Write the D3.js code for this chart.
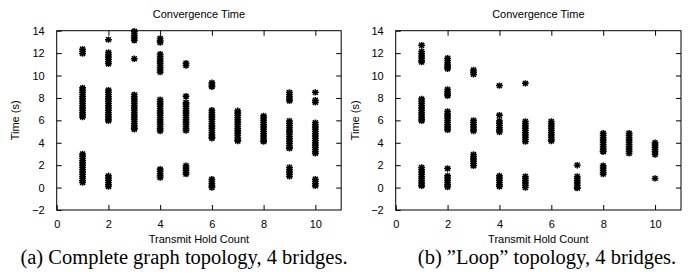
<!DOCTYPE html>
<html><head><meta charset="utf-8">
<script src="https://cdn.jsdelivr.net/npm/d3@7"></script>
<style>body{margin:0;background:#fff}svg{display:block}</style>
</head><body>
<svg id="c" width="689" height="274"></svg>
<script>
// Transmit Hold Count (x) for each column of measured convergence times
const holdCounts = [1, 2, 3, 4, 5, 6, 7, 8, 9, 10];
const xTicks = [0, 2, 4, 6, 8, 10];
const yTicks = [-2, 0, 2, 4, 6, 8, 10, 12, 14];

// (a) Complete graph topology, 4 bridges: convergence times (s) per hold count
const completeTimes = [
  [12.35, 12.15, 11.95, 8.9, 8.7, 8.5, 8.3, 8.1, 7.9, 7.7, 7.5, 7.3, 7.1, 6.9, 6.7, 6.5, 6.3, 3.0, 2.8, 2.6, 2.4, 2.2, 2.0, 1.8, 1.6, 1.4, 1.2, 1.0, 0.8, 0.6, 0.45],
  [13.2, 12.05, 11.85, 11.65, 11.45, 11.25, 11.05, 8.7, 8.5, 8.3, 8.1, 7.9, 7.7, 7.5, 7.3, 7.1, 6.9, 6.7, 6.5, 6.3, 6.1, 5.95, 1.05, 0.85, 0.65, 0.45, 0.25, 0.1],
  [13.95, 13.75, 13.55, 13.35, 13.15, 11.5, 8.3, 8.1, 7.9, 7.7, 7.5, 7.3, 7.1, 6.9, 6.7, 6.5, 6.3, 6.1, 5.9, 5.7, 5.5, 5.3, 5.2],
  [13.3, 13.1, 12.95, 11.9, 11.7, 11.5, 11.3, 11.1, 10.9, 10.7, 10.5, 10.3, 7.85, 7.65, 7.45, 7.25, 7.05, 6.85, 6.65, 6.45, 6.25, 6.05, 5.85, 5.65, 5.45, 5.25, 5.05, 1.65, 1.45, 1.25, 1.05, 0.9],
  [11.1, 10.9, 8.15, 7.6, 7.45, 7.25, 7.05, 6.85, 6.65, 6.45, 6.25, 6.05, 5.85, 5.65, 5.45, 5.25, 5.1, 1.95, 1.75, 1.55, 1.35, 1.2],
  [9.35, 9.15, 9.0, 6.9, 6.7, 6.5, 6.3, 6.1, 5.9, 5.7, 5.5, 5.3, 5.1, 4.9, 4.7, 4.5, 4.4, 0.75, 0.55, 0.35, 0.15, 0.0],
  [6.85, 6.65, 6.45, 6.25, 6.05, 5.85, 5.65, 5.45, 5.25, 5.05, 4.85, 4.65, 4.45, 4.25, 4.15],
  [6.4, 6.2, 6.0, 5.8, 5.6, 5.4, 5.2, 5.0, 4.8, 4.6, 4.4, 4.2, 4.1],
  [8.5, 8.3, 8.1, 7.9, 7.75, 5.95, 5.75, 5.55, 5.35, 5.15, 4.95, 4.75, 4.55, 4.35, 4.15, 3.95, 3.75, 3.55, 3.5, 1.8, 1.6, 1.4, 1.2, 1.0],
  [8.5, 7.8, 7.6, 5.8, 5.6, 5.4, 5.2, 5.0, 4.8, 4.6, 4.4, 4.2, 4.0, 3.8, 3.6, 3.4, 3.2, 3.05, 0.75, 0.55, 0.35, 0.15]
];

// (b) "Loop" topology, 4 bridges: convergence times (s) per hold count
const loopTimes = [
  [12.7, 12.15, 11.95, 11.75, 11.55, 11.35, 11.2, 7.9, 7.7, 7.5, 7.3, 7.1, 6.9, 6.7, 6.5, 6.3, 6.1, 5.95, 1.8, 1.6, 1.4, 1.2, 1.0, 0.8, 0.6, 0.4, 0.2, 0.15],
  [11.55, 11.35, 11.15, 10.95, 10.75, 10.6, 8.75, 8.55, 8.35, 8.2, 6.8, 6.6, 6.4, 6.2, 6.0, 5.8, 5.6, 5.4, 5.2, 5.15, 1.7, 1.05, 0.85, 0.65, 0.45, 0.25, 0.05],
  [10.5, 10.3, 10.1, 6.0, 5.8, 5.6, 5.4, 5.2, 5.05, 2.95, 2.75, 2.55, 2.35, 2.15, 1.95],
  [9.1, 6.45, 5.95, 5.75, 5.55, 5.35, 5.15, 4.95, 1.05, 0.85, 0.65, 0.45, 0.25, 0.1],
  [9.3, 5.9, 5.7, 5.5, 5.3, 5.1, 4.9, 4.7, 4.5, 4.3, 4.1, 1.0, 0.8, 0.6, 0.4, 0.2, 0.0],
  [5.9, 5.7, 5.5, 5.3, 5.1, 4.9, 4.7, 4.5, 4.3, 4.15],
  [2.0, 1.0, 0.8, 0.6, 0.4, 0.2, 0.0, -0.05],
  [4.85, 4.65, 4.45, 4.25, 4.05, 3.85, 3.65, 3.45, 3.25, 3.2, 1.95, 1.75, 1.55, 1.35, 1.2],
  [4.85, 4.65, 4.45, 4.25, 4.05, 3.85, 3.65, 3.45, 3.25, 3.05],
  [4.0, 3.8, 3.6, 3.4, 3.2, 2.95, 0.82]
];

const titleText = "Convergence Time";
const xLabel = "Transmit Hold Count";
const yLabel = "Time (s)";
const captions = ["(a) Complete graph topology, 4 bridges.", "(b) \u201DLoop\u201D topology, 4 bridges."];

const svg = d3.select("#c");
const sans = "'Liberation Sans', Arial, Helvetica, sans-serif";
const serif = "'Liberation Serif', 'Times New Roman', serif";

const panels = [
  {times: completeTimes, left: 56.7, right: 341.2, caption: captions[0], capX: 184, ylabX: 15.5},
  {times: loopTimes, left: 395.7, right: 681, caption: captions[1], capX: 547, ylabX: 355}
];
const plotTop = 30.7, plotBottom = 210;
const star = "M-3.4,0H3.4M0,-3.2V3.2M-2.5,-2.4L2.5,2.4M-2.5,2.4L2.5,-2.4";

panels.forEach(p => {
  const x = d3.scaleLinear().domain([0, 11]).range([p.left, p.right]);
  const y = d3.scaleLinear().domain([-2, 14]).range([plotBottom, plotTop]);
  const g = svg.append("g");

  // points
  const pts = [];
  holdCounts.forEach((h, i) => p.times[i].forEach(t => pts.push([h, t])));
  g.append("g").selectAll("path").data(pts).join("path")
    .attr("transform", d => `translate(${x(d[0])},${y(d[1])})`)
    .attr("d", star).attr("fill", "none").attr("stroke", "#000").attr("stroke-width", 1.5);

  // axes (gnuplot style: inward ticks, mirrored)
  const tl = 5;
  const axB = g.append("g").attr("transform", `translate(0,${plotBottom})`)
    .call(d3.axisBottom(x).tickValues(xTicks).tickSizeInner(-tl).tickSizeOuter(0).tickPadding(10));
  const axT = g.append("g").attr("transform", `translate(0,${plotTop})`)
    .call(d3.axisTop(x).tickValues(xTicks.filter(v => v > 0)).tickSizeInner(-tl).tickSizeOuter(0).tickFormat(""));
  const axL = g.append("g").attr("transform", `translate(${p.left},0)`)
    .call(d3.axisLeft(y).tickValues(yTicks).tickSizeInner(-tl).tickSizeOuter(0).tickPadding(12));
  const axR = g.append("g").attr("transform", `translate(${p.right},0)`)
    .call(d3.axisRight(y).tickValues(yTicks.filter(v => v > -2 && v < 14)).tickSizeInner(-tl).tickSizeOuter(0).tickFormat(""));
  [axB, axT, axL, axR].forEach(a => {
    a.selectAll(".domain").remove();
    a.selectAll("line").attr("stroke", "#000");
    a.selectAll("text").attr("font-family", sans).attr("font-size", 11).attr("fill", "#000");
  });
  g.append("rect").attr("x", p.left).attr("y", plotTop).attr("width", p.right - p.left).attr("height", plotBottom - plotTop)
    .attr("fill", "none").attr("stroke", "#000").attr("stroke-width", 1);

  const cx = (p.left + p.right) / 2;
  g.append("text").attr("x", cx).attr("y", 18).attr("text-anchor", "middle")
    .attr("font-family", sans).attr("font-size", 11).text(titleText);
  g.append("text").attr("x", cx).attr("y", 243).attr("text-anchor", "middle")
    .attr("font-family", sans).attr("font-size", 11).text(xLabel);
  g.append("text").attr("transform", `translate(${p.ylabX},${(plotTop + plotBottom) / 2}) rotate(-90)`)
    .attr("text-anchor", "middle").attr("dy", "0.35em")
    .attr("font-family", sans).attr("font-size", 11).text(yLabel);
  g.append("text").attr("x", p.capX).attr("y", 264).attr("text-anchor", "middle")
    .attr("font-family", serif).attr("font-size", 20.5).text(p.caption);
});
</script>
</body></html>
